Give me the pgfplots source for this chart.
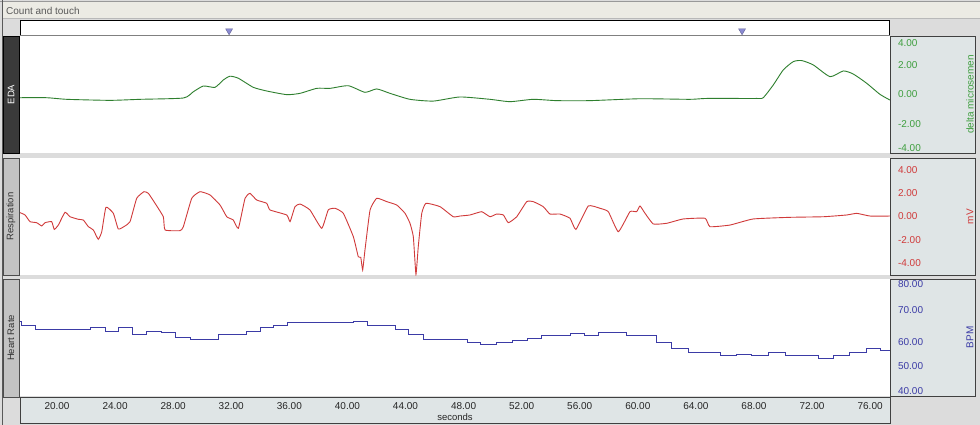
\documentclass[border=0pt]{standalone}
\usepackage{pgfplots}
\pgfplotsset{compat=1.18}
\usepackage{fontspec}
\setmainfont{Liberation Sans}

\definecolor{winbg}{HTML}{DCDCDC}
\definecolor{titlebg}{HTML}{ECEBE4}
\definecolor{panelbg}{HTML}{DFE5E6}
\definecolor{edabar}{HTML}{3A3A3A}
\definecolor{lightbar}{HTML}{C3C3C3}
\definecolor{edagreen}{HTML}{2E7F2E}
\definecolor{edalabel}{HTML}{3E9E3E}
\definecolor{respred}{HTML}{D03A3A}
\definecolor{hrblue}{HTML}{3B3BA6}
\definecolor{markblue}{HTML}{8A8AD2}

% EDA (microsiemens) vs seconds
\pgfplotstableread{
t v
17.45 -0.22
19.29 -0.22
20.67 -0.33
23.65 -0.40
25.72 -0.33
28.70 -0.24
29.39 0.19
30.08 0.58
30.88 0.49
31.45 0.99
31.91 1.25
32.49 1.11
33.52 0.49
34.44 0.24
35.82 -0.01
36.74 0.08
37.89 0.42
38.80 0.42
40.06 0.60
41.21 0.15
42.02 0.38
42.93 0.08
44.31 -0.33
45.92 -0.45
47.75 -0.17
49.82 -0.33
51.20 -0.49
52.80 -0.33
54.41 -0.42
56.71 -0.42
60.15 -0.29
63.59 -0.33
64.75 -0.27
68.19 -0.27
68.64 -0.22
69.33 0.65
70.02 1.68
70.71 2.25
71.29 2.32
72.09 2.02
73.24 1.22
74.15 1.61
74.84 1.40
75.76 0.77
76.68 0.01
77.37 -0.38
}\edadata

% respiration (mV)
\pgfplotstableread{
t v
17.45 0.33
17.80 0.13
18.14 -0.44
18.60 -0.53
18.95 -0.81
19.17 -0.53
19.63 -0.44
19.81 -1.10
20.09 -0.73
20.55 0.36
20.90 -0.02
21.47 -0.24
21.81 -0.30
22.16 -0.87
22.50 -1.15
22.84 -1.95
23.08 -1.30
23.37 0.79
23.88 0.27
24.22 -1.07
24.68 -0.81
25.03 -0.44
25.49 1.56
25.99 2.12
26.29 1.98
26.75 1.13
27.32 -0.02
27.44 -1.15
28.47 -1.21
28.70 -0.87
29.28 1.56
29.85 2.12
30.54 1.84
31.23 0.98
31.69 -0.02
32.14 -0.30
32.49 -1.01
32.95 1.56
33.29 1.98
33.75 1.41
34.44 1.13
34.67 0.56
35.82 0.13
36.05 -0.44
36.39 0.84
36.74 1.07
37.42 0.56
38.23 -1.01
38.68 0.56
39.15 0.70
39.72 0.27
40.41 -1.73
40.75 -3.44
40.92 -3.49
41.05 -4.57
41.21 -2.86
41.56 0.56
42.02 1.56
42.71 1.27
43.40 0.98
43.97 0.27
44.31 -0.58
44.54 -1.73
44.72 -4.95
44.88 -2.58
45.12 0.27
45.41 1.13
46.38 0.84
47.29 -0.02
47.75 0.04
48.44 0.13
49.25 0.41
49.82 -0.02
50.28 0.21
50.74 0.13
51.08 -0.53
51.66 -0.02
52.35 1.27
52.80 1.27
53.49 0.84
53.95 0.21
54.64 0.21
55.33 -0.15
55.74 -1.10
56.59 0.90
57.40 0.70
57.97 0.41
58.66 -1.30
59.46 0.41
59.92 0.41
60.15 0.90
60.50 0.27
61.07 -0.64
61.99 -0.58
63.13 -0.21
64.63 -0.15
64.97 -0.87
66.35 -0.73
67.95 -0.21
70.48 -0.07
72.78 -0.02
74.39 0.13
75.08 0.27
75.99 0.04
77.37 0.04
}\respdata

% heart rate (BPM), value holds from t to next t
\pgfplotstableread{
t v
17.45 65.5
17.57 64.2
18.48 62.7
22.32 63.6
23.31 62.1
24.20 63.6
25.21 61.0
26.18 62.1
27.16 61.6
28.13 60.1
29.16 59.2
31.11 61.0
33.06 62.1
34.03 63.6
34.94 64.2
35.86 65.0
40.41 65.5
41.37 64.2
43.28 62.7
44.19 61.0
45.23 59.2
48.26 58.2
49.13 57.6
50.28 58.2
51.38 59.1
52.39 59.6
53.38 60.7
55.33 61.3
56.32 60.7
57.28 61.6
59.24 60.7
61.30 58.2
62.33 56.3
63.48 54.8
65.66 53.7
66.76 54.2
67.84 53.7
68.99 54.8
70.14 54.0
71.29 53.7
72.43 52.8
73.46 53.9
74.61 54.8
75.72 56.3
76.68 55.6
77.37 55.6
}\hrdata

\pgfplotsset{
  panel/.style={
    anchor=north west, scale only axis,
    width=870pt, height=117pt,
    xmin=17.45, xmax=77.37,
    axis line style={draw=none},
    major tick length=0pt,
    xtick=\empty,
    yticklabel pos=right,
    yticklabel style={anchor=west, xshift=4.5pt},
    tick label style={font=\fontsize{10}{12}\selectfont},
    ylabel style={at={(axis description cs:1.092,0.5)}, anchor=center,
      font=\fontsize{10}{12}\selectfont},
  }
}

\begin{document}
\begin{tikzpicture}
\begin{scope}[x=1pt,y=-1pt]
\fill[winbg] (0,0) rectangle (980,425);
\useasboundingbox (0,0) rectangle (980,425);
% title strip
\fill[titlebg] (3,2) rectangle (980,18);
\draw[gray!80] (0,1.5) -- (980,1.5);
\draw[gray!55] (3,18.5) -- (980,18.5);
\draw[gray!70!black] (2.5,0) -- (2.5,425);
\node[anchor=west, text=black!65, font=\fontsize{10}{12}\selectfont, inner sep=0pt] at (6,10.5) {Count and touch};
% event marker strip
\fill[white] (20,20) rectangle (890,35);
\draw[black] (20,20.5) -- (889.5,20.5) -- (889.5,35);
\draw[black] (20.5,20) -- (20.5,35);
\draw[gray] (20,35) -- (890,35);
% plot areas, unit panels and channel tabs
\foreach \top in {36,158,279} {
  \fill[white] (20,\top) rectangle (890,\top+117);
  \filldraw[fill=panelbg, draw=black!75] (890.5,\top) rectangle (975,\top+117);
}
\filldraw[fill=edabar, draw=black] (3,36) rectangle (19,153);
\filldraw[fill=lightbar, draw=black!70] (3,158) rectangle (19,275);
\filldraw[fill=lightbar, draw=black!70] (3,279) rectangle (19,397);
\filldraw[fill=panelbg, draw=black!75] (20,397) rectangle (890,423.5);
\node[rotate=90, text=white, font=\fontsize{9.5}{11}\selectfont] at (11,94.5) {EDA};
\node[rotate=90, text=black!80, font=\fontsize{9.5}{11}\selectfont] at (11,216.5) {Respiration};
\node[rotate=90, text=black!80, font=\fontsize{9.5}{11}\selectfont] at (11,338) {Heart Rate};
\end{scope}

% event markers
\begin{axis}[at={(20pt,-20pt)}, anchor=north west, scale only axis,
  width=870pt, height=15pt, xmin=17.45, xmax=77.37, ymin=0, ymax=1,
  hide axis, clip=false]
\addplot[only marks, mark=triangle*, mark size=4pt,
  mark options={rotate=180, fill=markblue, draw=markblue!70!black, line width=0.4pt}]
  coordinates {(31.85,0.28) (67.18,0.28)};
\end{axis}

% EDA
\begin{axis}[panel, at={(20pt,-36pt)}, ymin=-4, ymax=4,
  ytick={-3.65,-2,0,2,3.5},
  yticklabels={-4.00,-2.00,0.00,2.00,4.00},
  yticklabel style={text=edalabel},
  ylabel={delta microsemen}, ylabel style={text=edalabel}]
\addplot[edagreen, line width=0.9pt, smooth, tension=0.35] table[x=t, y=v] {\edadata};
\end{axis}

% Respiration
\begin{axis}[panel, at={(20pt,-158pt)}, ymin=-5, ymax=5,
  ytick={-4,-2,0,2,4},
  yticklabels={-4.00,-2.00,0.00,2.00,4.00},
  yticklabel style={text=respred},
  ylabel={mV}, ylabel style={text=respred}]
\addplot[respred, line width=0.9pt, smooth, tension=0.25] table[x=t, y=v] {\respdata};
\end{axis}

% Heart rate
\begin{axis}[panel, at={(20pt,-279pt)}, ymin=40, ymax=80,
  ytick={41.7,50.2,58.6,69.5,78.3},
  yticklabels={40.00,50.00,60.00,70.00,80.00},
  yticklabel style={text=hrblue},
  ylabel={BPM}, ylabel style={text=hrblue},
  xtick={20,24,...,76},
  xticklabels={20.00,24.00,28.00,32.00,36.00,40.00,44.00,48.00,52.00,56.00,60.00,64.00,68.00,72.00,76.00},
  xticklabel style={text=black!85, yshift=-2.5pt},
  xlabel={seconds},
  xlabel style={at={(axis description cs:0.5,-0.18)}, anchor=center,
    font=\fontsize{9.5}{11}\selectfont, text=black!85}]
\addplot[hrblue, line width=0.9pt, const plot] table[x=t, y=v] {\hrdata};
\end{axis}
\end{tikzpicture}
\end{document}
